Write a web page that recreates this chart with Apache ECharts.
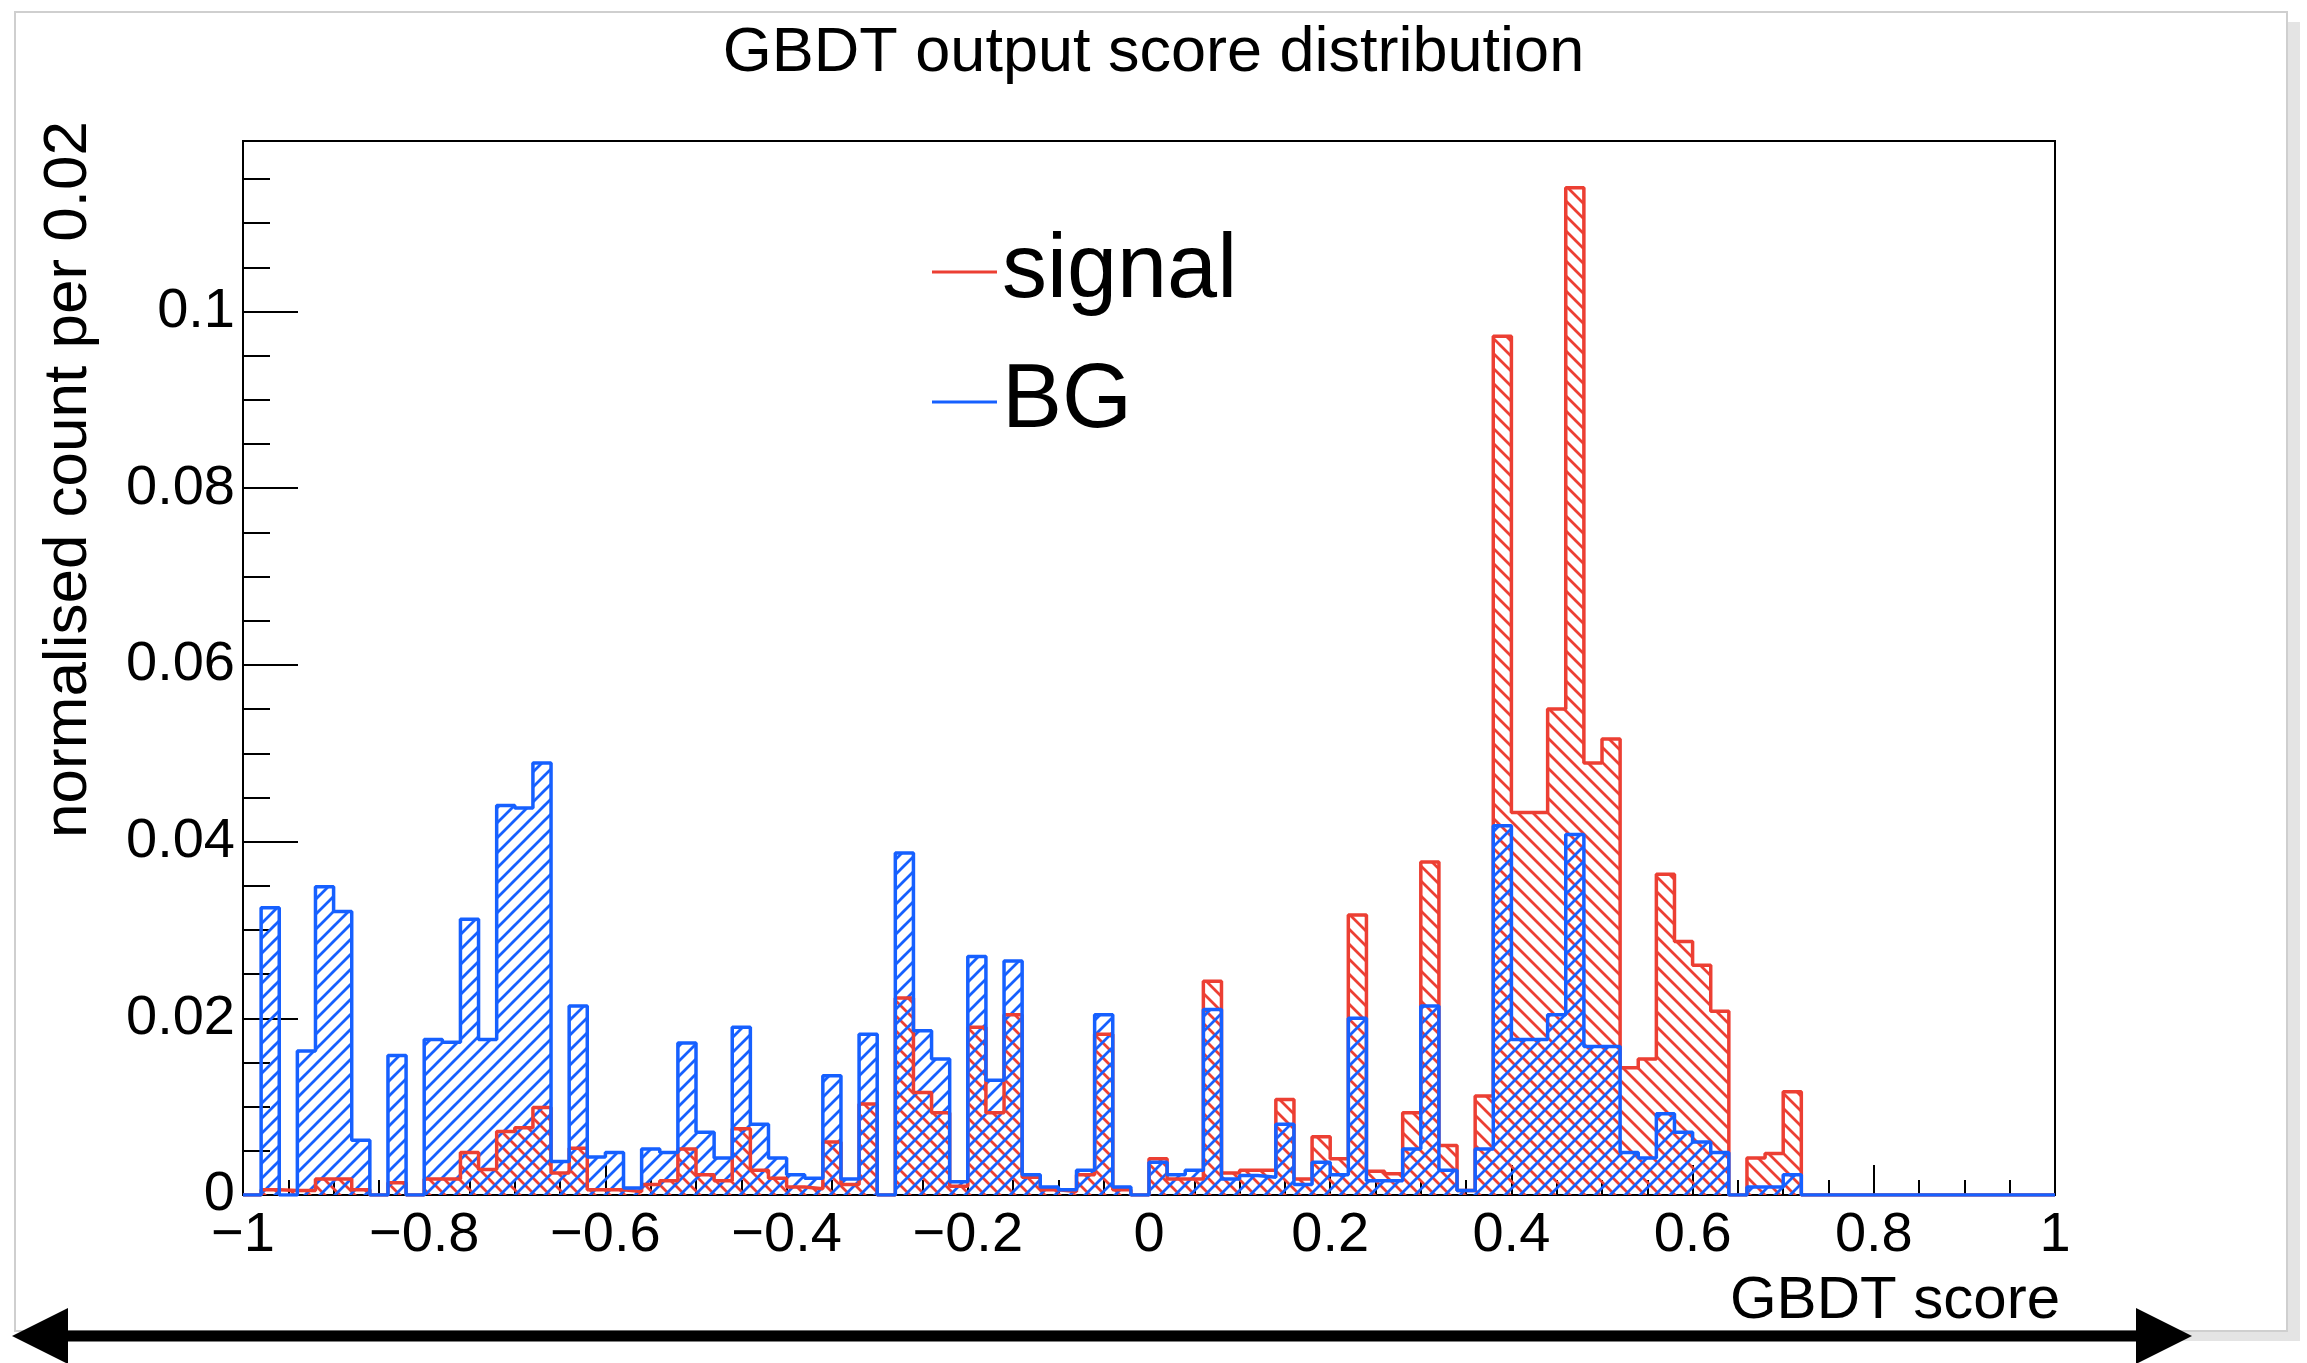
<!DOCTYPE html>
<html>
<head>
<meta charset="utf-8">
<script src="https://cdn.jsdelivr.net/npm/echarts@6/dist/echarts.min.js"></script>
<style>
html,body{margin:0;padding:0;background:#fff;}
#chart{width:2307px;height:1363px;}
</style>
</head>
<body>
<div id="chart"></div>
<script>
// ---- data (100 bins of width 0.02 from -1 to 1) ----
const binLow = -1;
const binWidth = 0.02;
const signal = [
  0, 0.0006, 0.0005, 0.0005, 0.0018, 0.0018, 0.0006, 0, 0.0014, 0,
  0.0018, 0.0018, 0.0048, 0.0029, 0.0072, 0.0076, 0.0099, 0.0025, 0.0053, 0.0006,
  0.0006, 0.0004, 0.0012, 0.0016, 0.0052, 0.0023, 0.0016, 0.0075, 0.0028, 0.0019,
  0.0009, 0.0007, 0.0060, 0.0012, 0.0103, 0, 0.0223, 0.0116, 0.0093, 0.0010,
  0.0190, 0.0093, 0.0204, 0.0020, 0.0006, 0.0004, 0.0023, 0.0182, 0.0006, 0,
  0.0041, 0.0018, 0.0018, 0.0242, 0.0025, 0.0028, 0.0028, 0.0108, 0.0018, 0.0066,
  0.0041, 0.0317, 0.0027, 0.0024, 0.0093, 0.0377, 0.0056, 0.0005, 0.0112, 0.0972,
  0.0433, 0.0433, 0.0550, 0.1140, 0.0489, 0.0516, 0.0144, 0.0154, 0.0363, 0.0287,
  0.0260, 0.0208, 0, 0.0042, 0.0047, 0.0117, 0, 0, 0, 0,
  0, 0, 0, 0, 0, 0, 0, 0, 0, 0
];
const background = [
  0, 0.0325, 0, 0.0163, 0.0349, 0.0321, 0.0062, 0, 0.0158, 0,
  0.0176, 0.0173, 0.0312, 0.0176, 0.0441, 0.0438, 0.0489, 0.0038, 0.0214, 0.0043,
  0.0048, 0.0008, 0.0052, 0.0048, 0.0172, 0.0071, 0.0042, 0.0190, 0.0080, 0.0042,
  0.0023, 0.0019, 0.0135, 0.0018, 0.0182, 0, 0.0387, 0.0186, 0.0154, 0.0015,
  0.0270, 0.0130, 0.0265, 0.0023, 0.0009, 0.0006, 0.0028, 0.0204, 0.0009, 0,
  0.0037, 0.0023, 0.0028, 0.0210, 0.0018, 0.0022, 0.0020, 0.0080, 0.0012, 0.0037,
  0.0023, 0.0200, 0.0016, 0.0016, 0.0052, 0.0214, 0.0028, 0.0005, 0.0052, 0.0418,
  0.0176, 0.0176, 0.0204, 0.0408, 0.0168, 0.0168, 0.0048, 0.0042, 0.0092, 0.0071,
  0.0060, 0.0048, 0, 0.0009, 0.0009, 0.0023, 0, 0, 0, 0,
  0, 0, 0, 0, 0, 0, 0, 0, 0, 0
];
const seriesNames = ['signal', 'BG'];
const xTickLabels = ['\u22121', '\u22120.8', '\u22120.6', '\u22120.4', '\u22120.2', '0', '0.2', '0.4', '0.6', '0.8', '1'];
const yTickLabels = ['0', '0.02', '0.04', '0.06', '0.08', '0.1'];
const titleText = 'GBDT output score distribution';
const xTitle = 'GBDT score';
const yTitle = 'normalised count per 0.02';

// ---- styling ----
const RED = '#ec3f33';
const BLUE = '#1660ff';
const FONT = 'Liberation Sans';

function hatch(color, dir, size, lw) {
  const c = document.createElement('canvas');
  c.width = size; c.height = size;
  const g = c.getContext('2d');
  g.strokeStyle = color; g.lineWidth = lw;
  g.beginPath();
  if (dir === '/') {
    g.moveTo(0, size); g.lineTo(size, 0);
    g.moveTo(-size / 2, size / 2); g.lineTo(size / 2, -size / 2);
    g.moveTo(size / 2, size * 1.5); g.lineTo(size * 1.5, size / 2);
  } else {
    g.moveTo(0, 0); g.lineTo(size, size);
    g.moveTo(-size / 2, size / 2); g.lineTo(size / 2, size * 1.5);
    g.moveTo(size / 2, -size / 2); g.lineTo(size * 1.5, size / 2);
  }
  g.stroke();
  return c;
}

// histogram contour: points at bin edges, stepped
function stepData(values) {
  const pts = [[binLow, 0]];
  values.forEach((v, i) => pts.push([+(binLow + i * binWidth).toFixed(4), v]));
  pts.push([+(binLow + values.length * binWidth).toFixed(4), values[values.length - 1]]);
  pts.push([+(binLow + values.length * binWidth).toFixed(4), 0]);
  return pts;
}

const chart = echarts.init(document.getElementById('chart'), null, {renderer: 'canvas'});

function histSeries(name, values, color, dir) {
  return {
    name: name,
    type: 'line',
    step: 'end',
    symbol: 'none',
    data: stepData(values),
    lineStyle: {color: color, width: 3.5},
    itemStyle: {color: color},
    areaStyle: {color: {image: hatch(color, dir, 15, 2.8), repeat: 'repeat'}, opacity: 1, origin: 'start'},
    animation: false
  };
}

const option = {
  animation: false,
  backgroundColor: '#ffffff',
  textStyle: {fontFamily: FONT},
  title: {
    text: titleText,
    left: 'center',
    top: 22,
    padding: 0,
    textStyle: {fontFamily: FONT, fontSize: 63, fontWeight: 'normal', color: '#000'}
  },
  legend: {
    orient: 'vertical',
    left: 932,
    top: 222,
    padding: 0,
    itemGap: 30,
    itemWidth: 65,
    itemHeight: 3,
    icon: 'rect',
    textStyle: {fontFamily: FONT, fontSize: 90, lineHeight: 100, color: '#000'},
    data: [
      {name: seriesNames[0], itemStyle: {color: RED}},
      {name: seriesNames[1], itemStyle: {color: BLUE}}
    ]
  },
  grid: {
    left: 243, right: 252, top: 141, bottom: 168,
    show: true, borderColor: '#000', borderWidth: 2, backgroundColor: 'transparent'
  },
  xAxis: {
    type: 'value', min: -1, max: 1, interval: 0.2,
    name: xTitle, nameLocation: 'end', nameGap: 5,
    nameTextStyle: {fontFamily: FONT, fontSize: 60, color: '#000', align: 'right', verticalAlign: 'top', padding: [76, 0, 0, 0]},
    axisLine: {show: true, onZero: false, lineStyle: {color: '#000', width: 2}},
    axisTick: {show: true, inside: true, length: 30, lineStyle: {color: '#000', width: 2}},
    minorTick: {show: true, splitNumber: 4, length: 15, lineStyle: {color: '#000', width: 2}},
    splitLine: {show: false},
    axisLabel: {
      fontFamily: FONT, fontSize: 56, color: '#000', margin: 13,
      formatter: v => xTickLabels[Math.round((v - binLow) / 0.2)] ?? ''
    }
  },
  yAxis: {
    type: 'value', min: 0, max: 0.1193, interval: 0.02,
    name: yTitle, nameLocation: 'end', nameGap: 20, nameRotate: 90,
    nameTextStyle: {fontFamily: FONT, fontSize: 62, color: '#000', align: 'right', verticalAlign: 'bottom', padding: [0, 0, 143, 0]},
    axisLine: {show: true, onZero: false, lineStyle: {color: '#000', width: 2}},
    axisTick: {show: true, inside: true, length: 55, lineStyle: {color: '#000', width: 2}},
    minorTick: {show: true, splitNumber: 4, length: 27, lineStyle: {color: '#000', width: 2}},
    splitLine: {show: false},
    axisLabel: {
      fontFamily: FONT, fontSize: 56, color: '#000', margin: 8, showMaxLabel: false,
      formatter: v => {
        const k = v / 0.02;
        return Math.abs(k - Math.round(k)) < 1e-6 ? (yTickLabels[Math.round(k)] ?? '') : '';
      }
    }
  },
  series: [
    histSeries(seriesNames[0], signal, RED, '\\'),
    histSeries(seriesNames[1], background, BLUE, '/')
  ],
  graphic: [
    {type: 'rect', z: -10, shape: {x: 2288, y: 22, width: 12, height: 1318}, style: {fill: '#e4e4e4'}},
    {type: 'rect', z: -10, shape: {x: 25, y: 1331, width: 2275, height: 10}, style: {fill: '#e4e4e4'}},
    {type: 'rect', z: -9, shape: {x: 15, y: 12, width: 2272, height: 1319}, style: {fill: '#fff', stroke: '#cfcfcf', lineWidth: 2}},
    {type: 'line', z: 10, shape: {x1: 60, y1: 1336, x2: 2144, y2: 1336}, style: {stroke: '#000', lineWidth: 11}},
    {type: 'polygon', z: 10, shape: {points: [[12, 1336], [68, 1308], [68, 1364]]}, style: {fill: '#000'}},
    {type: 'polygon', z: 10, shape: {points: [[2192, 1336], [2136, 1308], [2136, 1364]]}, style: {fill: '#000'}}
  ]
};
chart.setOption(option);
</script>
</body>
</html>
